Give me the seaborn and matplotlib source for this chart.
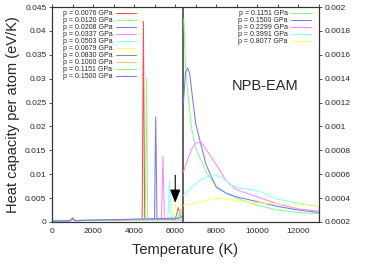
import numpy as np
import matplotlib
matplotlib.use("Agg")
import matplotlib.pyplot as plt
import seaborn as sns
from matplotlib.ticker import MultipleLocator, FuncFormatter

sns.set_style("white")
plt.rcParams['font.family'] = ['Liberation Sans', 'DejaVu Sans']

# ---------------- data: solid side (left axis, eV/K) ----------------
left_labels = ["p = 0.0076 GPa", "p = 0.0120 GPa", "p = 0.0208 GPa", "p = 0.0337 GPa",
               "p = 0.0503 GPa", "p = 0.0679 GPa", "p = 0.0830 GPa", "p = 0.1000 GPa",
               "p = 0.1151 GPa", "p = 0.1500 GPa"]
left_colors = ["#ff4a4a", "#86ff86", "#7878ff", "#ff88ff", "#88ffff",
               "#ffff66", "#8c8c8c", "#ffbb90", "#86ff86", "#7878ff"]

T_l0 = [0, 900, 1000, 1100, 4390, 4450, 4510, 4700, 6400]
C_l0 = [0.0002, 0.0003, 0.0009, 0.0003, 0.0004, 0.042, 0.0008, 0.0005, 0.0005]
T_l1 = [0, 900, 1000, 1100, 4540, 4600, 4660, 4800, 6400]
C_l1 = [0.0002, 0.0003, 0.0008, 0.0003, 0.0004, 0.030, 0.0009, 0.0005, 0.0005]
T_l2 = [0, 900, 1000, 1100, 4990, 5050, 5110, 5300, 6400]
C_l2 = [0.0002, 0.0003, 0.0008, 0.0003, 0.0004, 0.022, 0.0008, 0.0005, 0.0005]
T_l3 = [0, 900, 1000, 1100, 5330, 5400, 5470, 5600, 6400]
C_l3 = [0.0002, 0.0003, 0.0008, 0.0003, 0.0004, 0.0137, 0.0008, 0.0005, 0.0005]
T_l4 = [0, 900, 1000, 1100, 5640, 5720, 5800, 5950, 6400]
C_l4 = [0.0002, 0.0003, 0.0008, 0.0003, 0.0004, 0.0086, 0.0008, 0.0005, 0.0005]
T_l5 = [0, 900, 1000, 1100, 5850, 6020, 6180, 6300, 6400]
C_l5 = [0.0002, 0.0003, 0.0008, 0.0003, 0.0005, 0.0037, 0.0010, 0.0006, 0.0006]
T_l6 = [0, 900, 1000, 1100, 6000, 6150, 6280, 6400]
C_l6 = [0.0002, 0.0003, 0.0008, 0.0003, 0.0006, 0.0030, 0.0012, 0.0008]
T_l7 = [0, 900, 1000, 1100, 6100, 6250, 6360, 6400]
C_l7 = [0.0002, 0.0003, 0.0008, 0.0003, 0.0007, 0.0027, 0.0016, 0.0012]
T_l8 = [0, 900, 1000, 1100, 6150, 6300, 6400]
C_l8 = [0.0002, 0.0003, 0.0008, 0.0003, 0.0008, 0.0021, 0.0016]
T_l9 = [0, 900, 1000, 1100, 6200, 6350, 6400]
C_l9 = [0.0002, 0.0003, 0.0008, 0.0003, 0.0008, 0.0012, 0.0011]
left_T = [T_l0, T_l1, T_l2, T_l3, T_l4, T_l5, T_l6, T_l7, T_l8, T_l9]
left_C = [C_l0, C_l1, C_l2, C_l3, C_l4, C_l5, C_l6, C_l7, C_l8, C_l9]

# ---------------- data: liquid side (right axis, eV/K) ----------------
right_labels = ["p = 0.1151 GPa", "p = 0.1500 GPa", "p = 0.2299 GPa",
                "p = 0.3991 GPa", "p = 0.8077 GPa"]
right_colors = ["#86ff86", "#7878ff", "#ff88ff", "#88ffff", "#ffff66"]

T_r0 = [6420, 6500, 6600, 6800, 7000, 7500, 8000, 8500, 9000, 10000, 11000, 12000, 13000]
C_r0 = [0.0019, 0.0015, 0.0013, 0.00098, 0.00082, 0.00062, 0.00050, 0.00044, 0.00040,
        0.00034, 0.00030, 0.00028, 0.00027]
T_r1 = [6400, 6500, 6600, 6700, 6800, 7000, 7500, 8000, 8500, 9000, 10000, 11000, 12000, 13000]
C_r1 = [0.0012, 0.00145, 0.00149, 0.00145, 0.0013, 0.00102, 0.00068, 0.00049, 0.00044,
        0.00041, 0.00037, 0.00033, 0.00030, 0.00028]
T_r2 = [6400, 6600, 6800, 7000, 7250, 7500, 8000, 8500, 9000, 9500, 10000, 11000, 12000, 13000]
C_r2 = [0.00062, 0.00072, 0.00081, 0.00086, 0.00087, 0.00081, 0.00068, 0.00054, 0.00047,
        0.00044, 0.00041, 0.00035, 0.00031, 0.00029]
T_r3 = [6400, 6800, 7200, 7600, 8000, 8300, 8700, 9200, 9800, 10200, 11000, 12000, 13000]
C_r3 = [0.00042, 0.00049, 0.00055, 0.00058, 0.00059, 0.00057, 0.00051, 0.00048, 0.00047,
        0.00045, 0.00039, 0.00036, 0.00033]
T_r4 = [6400, 7000, 7500, 8000, 8500, 9000, 10000, 11000, 12000, 13000]
C_r4 = [0.00034, 0.00036, 0.00038, 0.00040, 0.00039, 0.00038, 0.00036, 0.00035, 0.00035, 0.00034]
right_T = [T_r0, T_r1, T_r2, T_r3, T_r4]
right_C = [C_r0, C_r1, C_r2, C_r3, C_r4]

T_split = 6400

# ---------------- figure ----------------
fig = plt.figure(figsize=(3.71, 2.73), dpi=100)
ax = fig.add_axes([52 / 371, 1 - 222 / 273, 267 / 371, 215 / 273])
ax2 = ax.twinx()

for T, C, lab, col in zip(left_T, left_C, left_labels, left_colors):
    sns.lineplot(x=T, y=C, ax=ax, color=col, linewidth=0.75, label=lab, legend=False)
for T, C, lab, col in zip(right_T, right_C, right_labels, right_colors):
    sns.lineplot(x=T, y=C, ax=ax2, color=col, linewidth=0.75, label=lab, legend=False)

ax.axvline(T_split, color="#555555", linewidth=1.3, zorder=5)

ax.set_xlim(0, 13000)
ax.set_ylim(0, 0.045)
ax2.set_ylim(0.0002, 0.002)

fmt = FuncFormatter(lambda v, p: "{:g}".format(round(v, 6)))
ax.xaxis.set_major_locator(MultipleLocator(2000))
ax.xaxis.set_minor_locator(MultipleLocator(1000))
ax.yaxis.set_major_locator(MultipleLocator(0.005))
ax2.yaxis.set_major_locator(MultipleLocator(0.0002))
ax.yaxis.set_major_formatter(fmt)
ax2.yaxis.set_major_formatter(fmt)

ax.tick_params(axis="both", which="both", labelsize=6, length=2.5, width=0.6,
               color="#333333", pad=1.5, direction="out")
ax.tick_params(axis="x", which="both", top=True, labeltop=False)
ax2.tick_params(axis="y", labelsize=6, length=2.5, width=0.6, color="#333333",
                pad=1.5, direction="out")
for a in (ax, ax2):
    for s in a.spines.values():
        s.set_color("#333333")
        s.set_linewidth(0.8)

ax.set_xlabel("Temperature (K)", fontsize=10.5, labelpad=6)
ax.set_ylabel("Heat capacity per atom (eV/K)", fontsize=10.5, labelpad=4)

ax.text(10400, 0.0285, "NPB-EAM", fontsize=10.5, ha="center", va="center")

ax.annotate("", xy=(6000, 0.0040), xytext=(6000, 0.0098),
            arrowprops=dict(arrowstyle="-|>,head_length=0.9,head_width=0.35",
                            color="black", lw=0.8, mutation_scale=9,
                            shrinkA=0, shrinkB=0), zorder=6)

h1, l1 = ax.get_legend_handles_labels()
ax.legend(h1, l1, loc="upper left", bbox_to_anchor=(0.04, 0.985), frameon=False,
          fontsize=5, markerfirst=False, labelspacing=0.0, handlelength=2.9,
          handletextpad=0.5, borderpad=0, borderaxespad=0)
h2, l2 = ax2.get_legend_handles_labels()
ax2.legend(h2, l2, loc="upper left", bbox_to_anchor=(0.695, 0.985), frameon=False,
           fontsize=5, markerfirst=False, labelspacing=0.0, handlelength=2.9,
           handletextpad=0.5, borderpad=0, borderaxespad=0)

fig.savefig("out.png", dpi=100)
